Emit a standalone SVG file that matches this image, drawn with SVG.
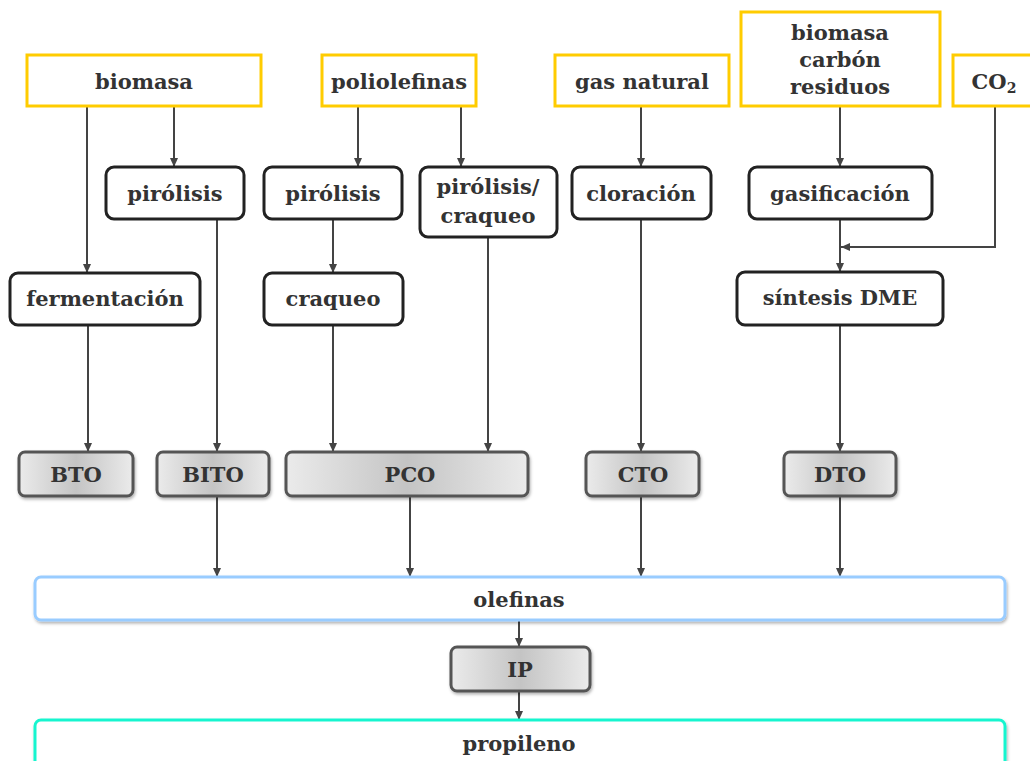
<svg xmlns="http://www.w3.org/2000/svg" width="1030" height="761" viewBox="0 0 1030 761">
<style>
text{font-family:"DejaVu Serif","Liberation Serif",serif;font-weight:bold;font-size:21px;fill:#333;text-anchor:middle}
.src{fill:#fff;stroke:#ffcc00;stroke-width:3}
.proc{fill:#fff;stroke:#222;stroke-width:3}
.tech{fill:url(#g);stroke:#555;stroke-width:3;filter:url(#sh)}
.ole{fill:#fff;stroke:#99ccff;stroke-width:3;filter:url(#sh)}
.pro{fill:#fff;stroke:#19f5cf;stroke-width:3;filter:url(#sh)}
.c{fill:none;stroke:#444;stroke-width:2}
.a{marker-end:url(#ar)}
</style>
<defs>
<linearGradient id="g" x1="0" y1="0" x2="1" y2="0">
<stop offset="0" stop-color="#ebebeb"/>
<stop offset="0.5" stop-color="#c4c4c4"/>
<stop offset="1" stop-color="#ebebeb"/>
</linearGradient>
<filter id="sh" x="-10%" y="-20%" width="120%" height="150%">
<feDropShadow dx="1" dy="2" stdDeviation="1.5" flood-color="#000" flood-opacity="0.3"/>
</filter>
<marker id="ar" markerWidth="10" markerHeight="10" refX="9" refY="4" orient="auto" markerUnits="userSpaceOnUse">
<path d="M0,0 L9,4 L0,8 z" fill="#444"/>
</marker>
</defs>

<g id="connectors">
<path class="c a" d="M87,107 V273"/>
<path class="c a" d="M174,107 V167"/>
<path class="c a" d="M217,220 V452"/>
<path class="c a" d="M88,325 V452"/>
<path class="c a" d="M358,107 V167"/>
<path class="c a" d="M461,107 V167"/>
<path class="c a" d="M333,220 V273"/>
<path class="c a" d="M333,325 V452"/>
<path class="c a" d="M488,238 V452"/>
<path class="c a" d="M641,107 V167"/>
<path class="c a" d="M641,220 V452"/>
<path class="c a" d="M840,107 V167"/>
<path class="c a" d="M840,220 V272"/>
<path class="c a" d="M995,107 V247 H841"/>
<path class="c a" d="M840,325 V452"/>
<path class="c a" d="M217,496 V577"/>
<path class="c a" d="M410,496 V577"/>
<path class="c a" d="M641,496 V577"/>
<path class="c a" d="M840,496 V577"/>
<path class="c a" d="M519,620 V647"/>
<path class="c a" d="M519,691 V720"/>
</g>

<g id="n-biomasa"><rect class="src" x="27" y="55" width="234" height="51"/><text x="144" y="89">biomasa</text></g>
<g id="n-poliolefinas"><rect class="src" x="322" y="55" width="154" height="51"/><text x="399" y="89">poliolefinas</text></g>
<g id="n-gasnatural"><rect class="src" x="555" y="55" width="174" height="51"/><text x="642" y="89">gas natural</text></g>
<g id="n-bcr"><rect class="src" x="741" y="12" width="199" height="94"/><text x="840" y="40">biomasa</text><text x="840" y="67">carbón</text><text x="840" y="94">residuos</text></g>
<g id="n-co2"><rect class="src" x="953" y="55" width="85" height="51"/><text x="994" y="89">CO<tspan font-size="14" dy="4">2</tspan></text></g>

<g id="n-pirolisis1"><rect class="proc" x="106" y="167" width="138" height="52" rx="8"/><text x="175" y="201">pirólisis</text></g>
<g id="n-pirolisis2"><rect class="proc" x="264" y="167" width="138" height="52" rx="8"/><text x="333" y="201">pirólisis</text></g>
<g id="n-pircraq"><rect class="proc" x="420" y="167" width="137" height="70" rx="8"/><text x="488" y="194">pirólisis/</text><text x="488" y="223">craqueo</text></g>
<g id="n-cloracion"><rect class="proc" x="572" y="167" width="139" height="52" rx="8"/><text x="641" y="201">cloración</text></g>
<g id="n-gasificacion"><rect class="proc" x="749" y="167" width="183" height="52" rx="8"/><text x="840" y="201">gasificación</text></g>

<g id="n-fermentacion"><rect class="proc" x="10" y="273" width="190" height="52" rx="8"/><text x="105" y="306">fermentación</text></g>
<g id="n-craqueo"><rect class="proc" x="264" y="273" width="139" height="52" rx="8"/><text x="333" y="306">craqueo</text></g>
<g id="n-dme"><rect class="proc" x="737" y="272" width="206" height="53" rx="8"/><text x="840" y="305">síntesis DME</text></g>

<g id="n-bto"><rect class="tech" x="19" y="452" width="114" height="44" rx="6"/><text x="76" y="482">BTO</text></g>
<g id="n-bito"><rect class="tech" x="157" y="452" width="112" height="44" rx="6"/><text x="213" y="482">BITO</text></g>
<g id="n-pco"><rect class="tech" x="286" y="452" width="242" height="44" rx="6"/><text x="410" y="482">PCO</text></g>
<g id="n-cto"><rect class="tech" x="586" y="452" width="113" height="44" rx="6"/><text x="643" y="482">CTO</text></g>
<g id="n-dto"><rect class="tech" x="784" y="452" width="112" height="44" rx="6"/><text x="840" y="482">DTO</text></g>

<g id="n-olefinas"><rect class="ole" x="35" y="577" width="970" height="43" rx="6"/><text x="519" y="607">olefinas</text></g>
<g id="n-ip"><rect class="tech" x="451" y="647" width="139" height="44" rx="6"/><text x="520" y="677">IP</text></g>
<g id="n-propileno"><rect class="pro" x="35" y="720" width="970" height="60" rx="6"/><text x="519" y="751">propileno</text></g>
</svg>
